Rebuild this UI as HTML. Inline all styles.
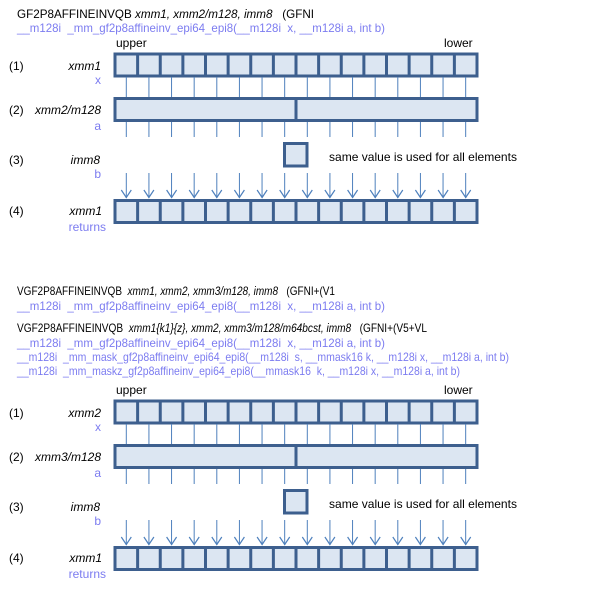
<!DOCTYPE html>
<html><head><meta charset="utf-8"><style>
html,body{margin:0;padding:0;background:#fff;width:602px;height:589px;overflow:hidden}
svg{display:block}
text{font-family:"Liberation Sans",sans-serif;font-size:12px;white-space:pre}
.k{fill:#000}.b{fill:#7c7cf0}.i{font-style:italic}
</style></head><body>
<svg width="602" height="589" viewBox="0 0 602 589" xmlns="http://www.w3.org/2000/svg" xml:space="preserve">
<defs>
<g id="dg">
  <rect x="115" y="54" width="362" height="22" fill="#dce6f2" stroke="#3d5f8e" stroke-width="3"/>
  <line x1="113.5" y1="65" x2="478.5" y2="65" stroke="#3d5f8e" stroke-width="22" stroke-dasharray="3 19.625"/>
  <line x1="125.8" y1="87" x2="478" y2="87" stroke="#4f81bd" stroke-width="20" stroke-dasharray="1 21.625"/>
  <rect x="115" y="98.5" width="362" height="22" fill="#dce6f2" stroke="#3d5f8e" stroke-width="3"/>
  <line x1="296" y1="98" x2="296" y2="121" stroke="#3d5f8e" stroke-width="3"/>
  <line x1="125.8" y1="129.5" x2="478" y2="129.5" stroke="#4f81bd" stroke-width="15" stroke-dasharray="1 21.625"/>
  <rect x="284.5" y="143.5" width="22.5" height="22.5" fill="#dce6f2" stroke="#3d5f8e" stroke-width="3"/>
  <line x1="125.8" y1="185.5" x2="478" y2="185.5" stroke="#4f81bd" stroke-width="25" stroke-dasharray="1 21.625"/>
  <g fill="none" stroke="#4f81bd" stroke-width="1.2">
    <path d="M121.3,190 L126.3,197.5 L131.3,190"/>
    <path d="M143.9,190 L148.9,197.5 L153.9,190"/>
    <path d="M166.6,190 L171.6,197.5 L176.6,190"/>
    <path d="M189.2,190 L194.2,197.5 L199.2,190"/>
    <path d="M211.8,190 L216.8,197.5 L221.8,190"/>
    <path d="M234.4,190 L239.4,197.5 L244.4,190"/>
    <path d="M257.1,190 L262.1,197.5 L267.1,190"/>
    <path d="M279.7,190 L284.7,197.5 L289.7,190"/>
    <path d="M302.3,190 L307.3,197.5 L312.3,190"/>
    <path d="M324.9,190 L329.9,197.5 L334.9,190"/>
    <path d="M347.6,190 L352.6,197.5 L357.6,190"/>
    <path d="M370.2,190 L375.2,197.5 L380.2,190"/>
    <path d="M392.8,190 L397.8,197.5 L402.8,190"/>
    <path d="M415.4,190 L420.4,197.5 L425.4,190"/>
    <path d="M438.1,190 L443.1,197.5 L448.1,190"/>
    <path d="M460.7,190 L465.7,197.5 L470.7,190"/>
  </g>
  <rect x="115" y="200.5" width="362" height="22" fill="#dce6f2" stroke="#3d5f8e" stroke-width="3"/>
  <line x1="113.5" y1="211.5" x2="478.5" y2="211.5" stroke="#3d5f8e" stroke-width="22" stroke-dasharray="3 19.625"/>
  <text class="k" x="116" y="47">upper</text>
  <text class="k" x="444" y="47">lower</text>
  <text class="k" x="329" y="161" textLength="188" lengthAdjust="spacingAndGlyphs">same value is used for all elements</text>
  <text class="k" x="9" y="70">(1)</text>
  <text class="k" x="9" y="114">(2)</text>
  <text class="k" x="9" y="164">(3)</text>
  <text class="k" x="9" y="215">(4)</text>
  <text class="b" x="101" y="84" text-anchor="end">x</text>
  <text class="b" x="101" y="130" text-anchor="end">a</text>
  <text class="b" x="101" y="178" text-anchor="end">b</text>
  <text class="k i" x="100" y="164" text-anchor="end">imm8</text>
  <text class="k i" x="102" y="215" text-anchor="end">xmm1</text>
  <text class="b" x="106" y="231" text-anchor="end">returns</text>
</g>
</defs>

<use href="#dg"/>
<use href="#dg" transform="translate(0,347)"/>

<text class="k" x="17" y="18" textLength="297" lengthAdjust="spacingAndGlyphs">GF2P8AFFINEINVQB <tspan class="i">xmm1, xmm2/m128, imm8</tspan>   (GFNI</text>
<text class="b" x="17" y="32" textLength="368" lengthAdjust="spacingAndGlyphs">__m128i  _mm_gf2p8affineinv_epi64_epi8(__m128i  x, __m128i a, int b)</text>
<text class="k i" x="101" y="70" text-anchor="end">xmm1</text>
<text class="k i" x="101" y="114" text-anchor="end">xmm2/m128</text>

<text class="k" x="17" y="295" textLength="318" lengthAdjust="spacingAndGlyphs">VGF2P8AFFINEINVQB  <tspan class="i">xmm1, xmm2, xmm3/m128, imm8</tspan>   (GFNI+(V1</text>
<text class="b" x="17" y="310" textLength="368" lengthAdjust="spacingAndGlyphs">__m128i  _mm_gf2p8affineinv_epi64_epi8(__m128i  x, __m128i a, int b)</text>
<text class="k" x="17" y="332" textLength="410" lengthAdjust="spacingAndGlyphs">VGF2P8AFFINEINVQB  <tspan class="i">xmm1{k1}{z}, xmm2, xmm3/m128/m64bcst, imm8</tspan>   (GFNI+(V5+VL</text>
<text class="b" x="17" y="347" textLength="368" lengthAdjust="spacingAndGlyphs">__m128i  _mm_gf2p8affineinv_epi64_epi8(__m128i  x, __m128i a, int b)</text>
<text class="b" x="17" y="361" textLength="492" lengthAdjust="spacingAndGlyphs">__m128i  _mm_mask_gf2p8affineinv_epi64_epi8(__m128i  s, __mmask16 k, __m128i x, __m128i a, int b)</text>
<text class="b" x="17" y="375" textLength="443" lengthAdjust="spacingAndGlyphs">__m128i  _mm_maskz_gf2p8affineinv_epi64_epi8(__mmask16  k, __m128i x, __m128i a, int b)</text>
<text class="k i" x="101" y="417" text-anchor="end">xmm2</text>
<text class="k i" x="101" y="461" text-anchor="end">xmm3/m128</text>
</svg>
</body></html>
